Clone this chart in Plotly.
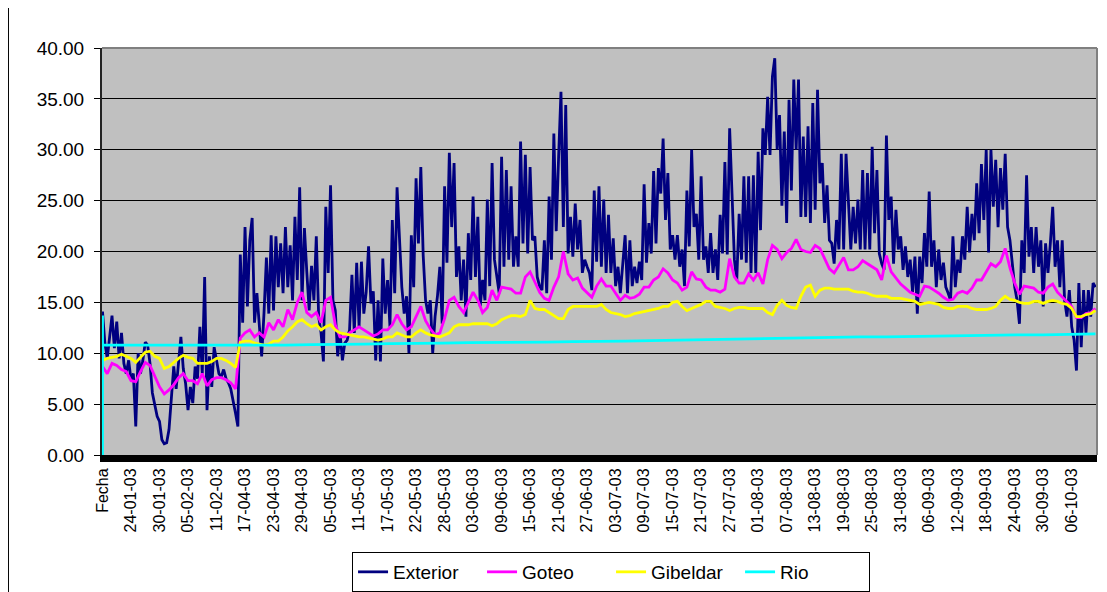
import numpy as np
import plotly.graph_objects as go

# etiquetas del eje de categorías (una cada 12 muestras)
fecha = ["Fecha", "24-01-03", "30-01-03", "05-02-03", "11-02-03", "17-04-03", "23-04-03",
         "29-04-03", "05-05-03", "11-05-03", "17-05-03", "22-05-03", "28-05-03", "03-06-03",
         "09-06-03", "15-06-03", "21-06-03", "27-06-03", "03-07-03", "09-07-03", "15-07-03",
         "21-07-03", "27-07-03", "01-08-03", "07-08-03", "13-08-03", "19-08-03", "25-08-03",
         "31-08-03", "06-09-03", "12-09-03", "18-09-03", "24-09-03", "30-09-03", "06-10-03"]

# temperatura exterior, dos lecturas por día
exterior = [
    14.1, 11.0, 9.5, 12.0, 13.7, 10.5, 13.1, 9.5, 12.0, 9.0, 8.0, 9.3,
    7.4, 8.0, 2.8, 10.0, 8.0, 9.3, 11.1, 10.8, 9.0, 6.1, 4.8, 3.8,
    3.3, 1.5, 1.1, 1.2, 2.5, 5.7, 8.7, 6.5, 9.0, 11.6, 8.5, 7.0,
    4.4, 6.7, 5.1, 8.7, 7.5, 12.6, 8.0, 17.5, 4.4, 9.7, 6.7, 10.6,
    9.3, 8.0, 7.7, 8.4, 7.5, 7.1, 6.5, 5.4, 4.1, 2.8, 19.7, 13.0,
    22.4, 14.6, 21.1, 23.3, 13.0, 15.9, 12.5, 9.7, 14.0, 19.4, 13.9, 21.6,
    14.2, 21.5, 16.5, 20.8, 15.9, 22.4, 16.5, 20.6, 15.2, 23.4, 17.2, 26.3,
    15.2, 22.3, 18.0, 14.2, 18.6, 15.2, 21.5, 13.6, 12.0, 9.2, 24.4, 17.9,
    26.5, 15.2, 14.2, 9.7, 12.0, 9.3, 11.0, 11.3, 12.3, 17.7, 12.0, 18.9,
    12.6, 19.0, 13.9, 16.0, 20.5, 14.9, 16.1, 9.3, 15.2, 9.2, 19.3, 13.9,
    17.2, 12.6, 23.1, 15.9, 26.3, 20.5, 16.5, 13.9, 15.6, 10.0, 21.6, 16.5,
    27.2, 20.8, 28.3, 19.6, 15.2, 13.9, 15.2, 10.0, 13.6, 15.6, 18.5, 12.9,
    26.4, 18.9, 29.7, 22.4, 28.7, 17.5, 20.5, 15.2, 19.2, 13.6, 21.8, 17.2,
    25.4, 17.5, 23.4, 14.6, 17.2, 15.2, 25.1, 16.6, 28.7, 19.2, 17.5, 15.9,
    29.3, 18.5, 28.0, 19.2, 26.4, 18.5, 21.5, 18.5, 30.8, 20.8, 29.5, 19.8,
    28.3, 21.1, 21.5, 17.5, 16.6, 16.2, 21.1, 15.9, 25.4, 19.2, 31.6, 22.0,
    29.3, 35.7, 22.4, 34.4, 19.8, 23.4, 19.5, 24.7, 20.2, 23.1, 17.9, 19.2,
    18.5, 17.9, 16.2, 26.0, 19.0, 26.4, 18.5, 25.1, 17.9, 23.6, 17.9, 21.3,
    16.6, 18.5, 15.9, 18.9, 21.6, 15.9, 21.1, 16.6, 18.5, 16.9, 19.0, 17.2,
    26.6, 18.9, 22.8, 19.8, 27.9, 20.8, 28.2, 25.7, 31.1, 23.1, 27.7, 20.2,
    21.6, 19.2, 21.6, 18.5, 20.2, 16.6, 26.0, 20.5, 30.0, 22.4, 23.7, 19.2,
    27.4, 19.2, 20.5, 17.9, 21.8, 17.9, 20.2, 17.2, 23.6, 19.8, 28.8, 19.7,
    32.1, 25.7, 19.2, 17.2, 23.7, 19.2, 27.4, 18.9, 27.4, 17.9, 27.5, 17.9,
    29.8, 22.1, 32.1, 29.5, 35.2, 29.5, 37.2, 39.0, 30.0, 33.4, 24.5, 31.8,
    22.8, 34.9, 26.0, 36.9, 30.0, 36.9, 23.4, 31.3, 23.4, 32.3, 22.8, 34.6,
    24.1, 35.9, 26.7, 28.7, 22.8, 26.5, 21.1, 20.8, 18.8, 23.1, 20.2, 29.6,
    20.2, 29.6, 25.4, 20.2, 24.4, 20.8, 25.1, 20.2, 28.0, 20.2, 27.7, 20.2,
    30.3, 21.8, 28.0, 19.8, 18.8, 18.2, 31.4, 23.1, 25.4, 18.8, 24.1, 20.2,
    21.5, 18.2, 20.5, 17.5, 19.2, 16.0, 19.5, 13.9, 19.5, 16.9, 21.8, 18.5,
    25.9, 18.5, 21.1, 16.5, 20.2, 17.2, 18.9, 16.5, 15.9, 15.2, 21.5, 16.5,
    19.2, 17.9, 21.5, 19.2, 24.4, 19.9, 23.7, 21.1, 26.7, 21.8, 28.6, 23.1,
    30.0, 19.9, 30.0, 24.4, 29.0, 22.4, 28.2, 24.1, 29.6, 22.4, 21.1, 18.5,
    16.5, 15.2, 12.9, 21.1, 17.9, 27.5, 19.5, 22.4, 17.9, 22.4, 18.5, 21.1,
    14.6, 20.8, 17.9, 20.8, 24.4, 18.5, 21.1, 16.5, 21.1, 15.2, 13.6, 16.2,
    12.6, 11.3, 8.3, 16.9, 10.6, 16.2, 12.0, 16.2, 13.6, 16.9, 16.5,
]

# una lectura por día
goteo = [
    8.7, 8.0, 9.0, 8.8, 8.4, 8.2,
    7.3, 7.2, 8.2, 9.1, 8.8, 7.8,
    6.7, 6.0, 6.4, 6.9, 7.6, 8.0,
    7.3, 7.3, 7.0, 8.0, 6.8, 7.4,
    7.6, 7.6, 7.4, 7.1, 6.5, 11.5,
    12.0, 12.3, 11.6, 12.0, 11.6, 13.0,
    12.3, 13.3, 12.6, 14.3, 13.3, 15.0,
    16.0, 14.0, 13.6, 14.0, 13.0, 15.2,
    15.5, 12.8, 11.6, 11.6, 12.0, 12.3,
    12.6, 12.3, 12.0, 11.7, 11.9, 12.3,
    12.3, 12.8, 13.8, 12.9, 12.3, 12.6,
    13.6, 14.6, 13.2, 12.4, 11.8, 12.0,
    13.4, 15.2, 15.5, 14.6, 14.0, 15.0,
    16.0, 15.2, 14.0, 14.5, 16.2, 15.2,
    16.5, 16.4, 16.3, 15.9, 15.9, 17.5,
    18.0, 17.0, 16.0, 15.4, 15.2, 16.5,
    17.5, 20.0, 17.8, 17.2, 17.4, 16.4,
    15.9, 15.5, 16.6, 17.3, 16.6, 16.6,
    15.9, 15.2, 15.7, 15.4, 15.5, 15.8,
    16.5, 16.5, 17.2, 17.5, 18.3, 17.9,
    17.2, 16.9, 16.2, 16.5, 18.0, 17.3,
    17.2, 16.5, 16.2, 16.2, 16.0, 16.3,
    19.3, 17.5, 16.9, 16.9, 17.8, 17.2,
    17.9, 16.8, 19.2, 20.6, 20.2, 19.3,
    19.9, 20.3, 21.2, 20.2, 20.0, 19.9,
    20.6, 20.3, 19.3, 18.3, 17.9, 18.7,
    19.4, 18.2, 18.2, 18.5, 19.1, 18.8,
    18.5, 18.2, 17.2, 19.6, 18.0, 17.4,
    16.8, 16.4, 16.0, 15.8, 15.6, 16.6,
    16.5, 16.2, 15.9, 15.5, 15.2, 15.3,
    15.9, 16.1, 15.9, 16.4, 17.2, 17.2,
    18.0, 18.8, 18.5, 19.0, 20.3, 18.4,
    16.9, 15.8, 16.6, 16.5, 16.4, 16.0,
    15.9, 16.5, 16.8, 16.0, 15.5, 15.0,
    14.6, 13.5, 13.5, 13.9, 14.0, 14.4,
]

gibeldar = [
    9.3, 9.5, 9.6, 9.7, 9.9, 9.7,
    9.5, 9.1, 9.6, 10.1, 10.2, 9.7,
    9.5, 8.5, 8.7, 9.1, 9.5, 9.8,
    9.6, 9.5, 9.0, 9.0, 9.0, 9.2,
    9.5, 9.5, 9.3, 9.0, 8.6, 11.1,
    11.2, 11.2, 11.0, 10.9, 10.8, 10.9,
    11.2, 11.2, 11.6, 12.2, 12.6, 13.1,
    13.3, 12.9, 12.6, 12.8, 12.3, 12.6,
    12.8, 12.3, 12.0, 11.9, 11.8, 11.7,
    11.6, 11.6, 11.5, 11.4, 11.3, 11.4,
    11.6, 11.6, 12.0, 11.8, 11.6, 11.6,
    12.0, 12.3, 12.0, 11.8, 11.7, 11.6,
    11.8, 12.0, 12.6, 12.8, 12.8, 12.8,
    12.9, 12.9, 12.9, 12.9, 12.7, 12.9,
    13.3, 13.5, 13.7, 13.7, 13.6, 13.8,
    15.2, 14.4, 14.3, 14.3, 14.0, 13.7,
    13.4, 13.4, 14.3, 14.6, 14.6, 14.6,
    14.6, 14.6, 14.6, 14.8, 14.3, 14.0,
    13.9, 13.8, 13.6, 13.7, 13.9, 14.0,
    14.1, 14.2, 14.3, 14.4, 14.6, 14.6,
    15.0, 15.1, 14.6, 14.2, 14.4, 14.6,
    14.8, 15.1, 15.1, 14.6, 14.5, 14.4,
    14.2, 14.4, 14.5, 14.5, 14.4, 14.4,
    14.4, 14.4, 14.0, 13.8, 14.7, 15.2,
    14.7, 14.5, 14.4, 15.6, 16.5, 16.7,
    15.6, 16.2, 16.4, 16.4, 16.3, 16.3,
    16.3, 16.3, 16.1, 16.0, 16.0, 15.9,
    15.7, 15.6, 15.6, 15.6, 15.4, 15.4,
    15.4, 15.3, 15.2, 15.1, 14.8, 14.9,
    15.0, 14.9, 14.8, 14.5, 14.4, 14.4,
    14.6, 14.6, 14.6, 14.4, 14.3, 14.3,
    14.3, 14.4, 14.6, 15.2, 15.6, 15.3,
    15.2, 15.0, 14.9, 14.9, 15.1, 15.1,
    14.9, 15.1, 15.2, 15.1, 14.9, 14.8,
    14.4, 13.6, 13.6, 13.8, 13.9, 14.2,
]

# fila de cabecera (texto = 0) y primera lectura del río
rio_inicio = [0.0, 13.7]
rio = [10.8, 10.8, 10.8, 10.8, 10.8, 10.8, 10.75, 10.8, 10.85, 10.85,
       10.9, 10.95, 10.95, 11.0, 11.05, 11.05, 11.1, 11.1, 11.15, 11.15,
       11.2, 11.25, 11.3, 11.35, 11.4, 11.45, 11.5, 11.5, 11.55, 11.6,
       11.6, 11.65, 11.7, 11.7, 11.75, 11.8, 11.8, 11.85, 11.9]

# posiciones en unidades de etiqueta del eje de categorías
x_ext = np.arange(len(exterior)) / 12
x_dia = np.arange(len(goteo)) / 6
x_rio = np.r_[np.zeros(len(rio_inicio)), np.arange(len(rio)) * 11 / 12]

fig = go.Figure()
series = [
    ("Exterior", x_ext, exterior, "#000080"),
    ("Goteo", x_dia, goteo, "#FF00FF"),
    ("Gibeldar", x_dia, gibeldar, "#FFFF00"),
    ("Rio", x_rio, rio_inicio + rio, "#00FFFF"),
]
for nombre, x, y, color in series:
    fig.add_trace(go.Scatter(x=x, y=y, name=nombre, mode="lines",
                             line=dict(color=color, width=2.8)))

# la página deja 8 px de margen alrededor de la figura
fig.update_layout(
    width=1099, height=584,
    margin=dict(l=94, r=10, t=40, b=137, autoexpand=False),
    paper_bgcolor="white", plot_bgcolor="#C0C0C0",
    font=dict(family="Arial, Liberation Sans, sans-serif", color="black"),
    showlegend=True,
    legend=dict(orientation="h", x=0.2513, y=-0.2383, xanchor="left", yanchor="top",
                bordercolor="black", borderwidth=1, bgcolor="white",
                entrywidth=84, entrywidthmode="pixels",
                font=dict(size=19)),
)
fig.update_xaxes(
    range=[-0.0175, 34.887], tickmode="array", tickvals=list(range(len(fecha))),
    ticktext=fecha, tickangle=-90, tickfont=dict(size=16),
    showgrid=False, zeroline=False, showline=True, linecolor="black", linewidth=7,
    ticks="", ticklabelstandoff=0, automargin=False,
)
fig.update_yaxes(
    range=[0, 40], dtick=5, tickformat=".2f", tickfont=dict(size=19),
    showgrid=True, gridcolor="black", gridwidth=1, zeroline=False,
    showline=True, linecolor="#222222", linewidth=2,
    ticks="outside", ticklen=6, tickcolor="black", ticklabelstandoff=6,
    automargin=False,
)

# borde gris superior y derecho del área de trazado, borde izquierdo del gráfico
fig.add_shape(type="line", xref="x domain", yref="y domain", x0=0, x1=1, y0=1, y1=1,
              line=dict(color="#808080", width=2))
fig.add_shape(type="line", xref="x domain", yref="y domain", x0=1, x1=1, y0=0, y1=1,
              line=dict(color="#808080", width=2))
fig.add_shape(type="line", xref="paper", yref="paper", x0=-0.094, x1=-0.094,
              y0=-0.34, y1=1.12, line=dict(color="black", width=1))

fig.write_html("out.html")
